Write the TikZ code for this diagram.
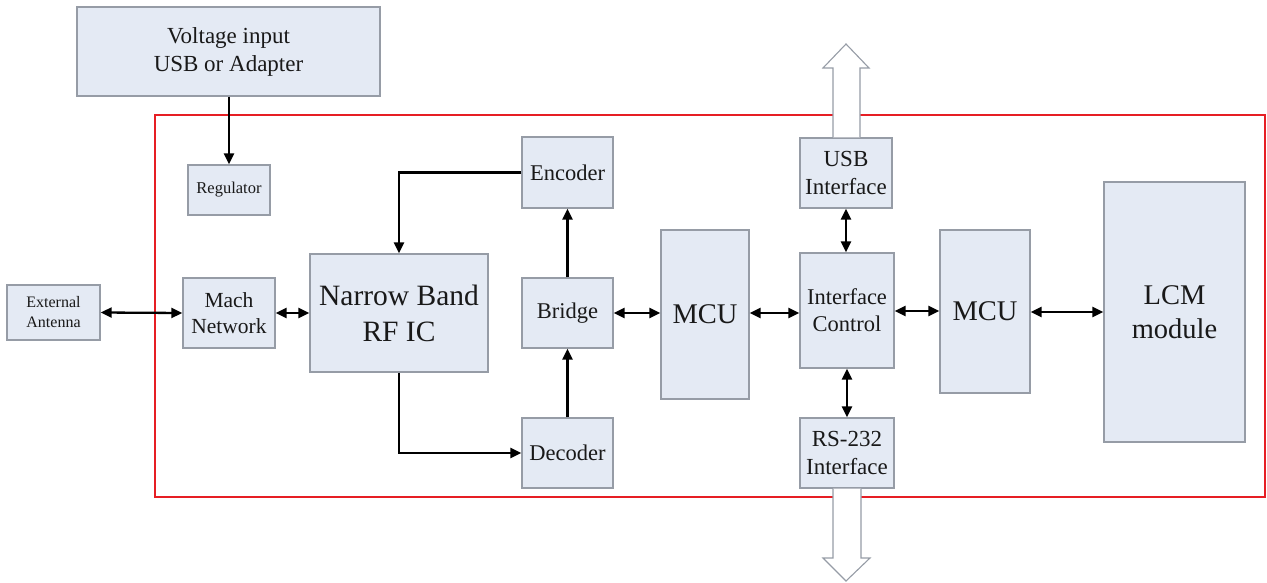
\documentclass[tikz,border=0pt]{standalone}
\usepackage{fontspec}
\setmainfont{Liberation Serif}
\usetikzlibrary{arrows.meta,shapes.arrows}
\definecolor{boxfill}{RGB}{228,234,244}
\definecolor{boxline}{RGB}{150,156,166}
\definecolor{redline}{RGB}{230,30,36}
\definecolor{txt}{RGB}{25,25,25}
\begin{document}
\begin{tikzpicture}[x=1pt,y=-1pt,
  blk/.style={draw=boxline, fill=boxfill, line width=1.3pt, rectangle, inner sep=0pt, align=center, text=txt},
  conn/.style={line width=2.3pt, -{Triangle[length=11pt,width=10pt]}},
  biconn/.style={line width=2.3pt, {Triangle[length=11pt,width=10pt]}-{Triangle[length=11pt,width=10pt]}},
  fat/.style={draw=boxline, fill=white, line width=1.1pt, line join=miter}
]
\useasboundingbox (0,0) rectangle (1267,583);
% red frame
\draw[redline, line width=2.2pt] (155,115) rectangle (1265,497);

% nodes
\node[blk, minimum width=303pt, minimum height=89pt, font=\fontsize{23}{28}\selectfont] (volt) at (228.5,51.5) {Voltage input\\USB or Adapter};
\node[blk, minimum width=82pt, minimum height=50pt, font=\fontsize{16.5}{20}\selectfont] (reg) at (229,190) {Regulator};
\node[blk, minimum width=93pt, minimum height=55pt, font=\fontsize{16}{20}\selectfont] (ext) at (53.5,312.5) {External\\Antenna};
\node[blk, minimum width=92pt, minimum height=70pt, font=\fontsize{21.5}{26}\selectfont] (mach) at (229,313) {Mach\\Network};
\node[blk, minimum width=178pt, minimum height=118pt, font=\fontsize{29.5}{36}\selectfont] (rf) at (399,313) {Narrow Band\\RF IC};
\node[blk, minimum width=91pt, minimum height=71pt, font=\fontsize{22.5}{27}\selectfont] (enc) at (567.5,172.5) {Encoder};
\node[blk, minimum width=91pt, minimum height=70pt, font=\fontsize{22.5}{27}\selectfont] (bri) at (567.5,313) {Bridge};
\node[blk, minimum width=91pt, minimum height=70pt, font=\fontsize{22.5}{27}\selectfont] (dec) at (567.5,453) {Decoder};
\node[blk, minimum width=88pt, minimum height=169pt, font=\fontsize{28.5}{34}\selectfont] (mcua) at (705,314.5) {MCU};
\node[blk, minimum width=94pt, minimum height=115pt, font=\fontsize{22.5}{27}\selectfont] (ifc) at (847,310.5) {Interface\\Control};
\node[blk, minimum width=92pt, minimum height=70pt, font=\fontsize{23}{28}\selectfont] (usb) at (846,173) {USB\\Interface};
\node[blk, minimum width=94pt, minimum height=70pt, font=\fontsize{23}{28}\selectfont] (rs) at (847,453) {RS-232\\Interface};
\node[blk, minimum width=90pt, minimum height=163pt, font=\fontsize{28.5}{34}\selectfont] (mcub) at (985,311.5) {MCU};
\node[blk, minimum width=141pt, minimum height=260pt, font=\fontsize{28.5}{34}\selectfont] (lcm) at (1174.5,312) {LCM\\module};

% fat block arrows
\coordinate (uptip) at (846,44);
\coordinate (dntip) at (846,581);
\draw[fat] (usb.north -| 833,0) -- (833,68) -- (823,68) -- (uptip) -- (869,68) -- (860,68) -- (usb.north -| 860,0);
\draw[fat] (rs.south -| 833,0) -- (833,558) -- (823,558) -- (dntip) -- (870,558) -- (861,558) -- (rs.south -| 861,0);

% connectors
\draw[conn] (volt.south -| reg.north) -- (reg.north);
\draw[biconn] (ext.east) -- (mach.west);
\draw[biconn] (mach.east) -- (rf.west);
\draw[conn] (enc.west) -| (rf.north);
\draw[conn] (rf.south) |- (dec.west);
\draw[conn] (dec.north) -- (bri.south);
\draw[conn] (bri.north) -- (enc.south);
\draw[biconn] (bri.east) -- (mcua.west |- bri.east);
\draw[biconn] (mcua.east |- 0,313) -- (ifc.west |- 0,313);
\draw[biconn] (ifc.east |- 0,311) -- (mcub.west |- 0,311);
\draw[biconn] (mcub.east |- 0,312) -- (lcm.west |- 0,312);
\draw[biconn] (ifc.north -| usb.south) -- (usb.south);
\draw[biconn] (ifc.south) -- (rs.north);
\end{tikzpicture}
\end{document}
